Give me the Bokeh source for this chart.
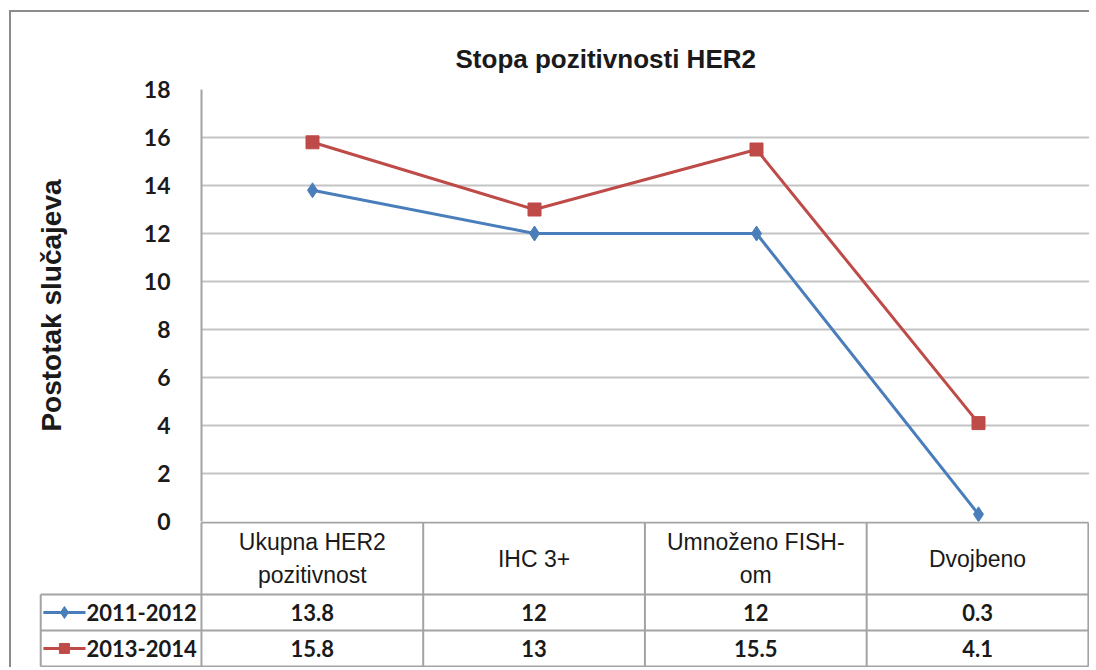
from bokeh.plotting import figure
from bokeh.layouts import column
from bokeh.models import Range1d, FactorRange, SingleIntervalTicker, ColumnDataSource
from bokeh.core.properties import value
from bokeh.embed import file_html
from bokeh.resources import INLINE

# ---- data ----
categories = ["Ukupna HER2\npozitivnost", "IHC 3+", "Umnoženo FISH-\nom", "Dvojbeno"]
series_names = ["2011-2012", "2013-2014"]
s2011_2012 = [13.8, 12, 12, 0.3]
s2013_2014 = [15.8, 13, 15.5, 4.1]
title_text = "Stopa pozitivnosti HER2"
y_label = "Postotak slučajeva"
y_ticks_interval = 2

BLUE = "#4a7ebb"
RED = "#be4b48"
GRID = "#c4c4c4"
TABLE = "#a3a3a3"
TXT = "#1a1a1a"
FRAME = "2px solid #8c8c8c"

# ---- chart ----
p = figure(width=1078, height=523, x_range=FactorRange(*categories),
           y_range=Range1d(0, 18), output_backend="svg", toolbar_location=None,
           x_axis_location=None, min_border_left=190, min_border_right=0,
           min_border_top=77, min_border_bottom=14)
p.outline_line_color = None
p.xgrid.visible = False
p.yaxis.ticker = SingleIntervalTicker(interval=y_ticks_interval)
p.ygrid.ticker = SingleIntervalTicker(interval=y_ticks_interval)
p.ygrid.grid_line_color = GRID
p.ygrid.grid_line_width = 2
p.yaxis.axis_line_color = TABLE
p.yaxis.axis_line_width = 2
p.yaxis.major_tick_line_color = None
p.yaxis.minor_tick_line_color = None
p.yaxis.major_label_standoff = 25
p.yaxis.major_label_text_font = "Lato"
p.yaxis.major_label_text_font_style = "bold"
p.yaxis.major_label_text_font_size = "23px"
p.yaxis.major_label_text_color = TXT
p.yaxis.axis_label = y_label
p.yaxis.axis_label_text_font = "Liberation Sans"
p.yaxis.axis_label_text_font_style = "bold"
p.yaxis.axis_label_text_font_size = "28px"
p.yaxis.axis_label_text_color = TXT
p.yaxis.axis_label_standoff = 74

p.title.text = title_text
p.title.align = "left"
p.title.offset = 254
p.title.text_font = "Liberation Sans"
p.title.text_font_style = "bold"
p.title.text_font_size = "26px"
p.title.text_color = TXT
p.title.standoff = 31

src = ColumnDataSource(dict(x=categories, a=s2011_2012, b=s2013_2014))
p.line("x", "a", source=src, line_color=BLUE, line_width=3)
p.scatter("x", "a", source=src, marker="diamond", size=15, color=BLUE)
p.line("x", "b", source=src, line_color=RED, line_width=3)
p.scatter("x", "b", source=src, marker="square", size=13, color=RED)

# ---- data table ----
n = len(categories)
t = figure(width=1078, height=146, x_range=Range1d(-0.735, n + 0.005),
           y_range=Range1d(-0.03, 4.03), output_backend="svg", toolbar_location=None,
           x_axis_location=None, y_axis_location=None, min_border_left=27,
           min_border_right=0, min_border_top=0, min_border_bottom=0)
t.outline_line_color = None
t.grid.visible = False
t.background_fill_color = None
t.border_fill_color = None

# table rules
vx = list(range(n + 1))
t.segment(x0=vx, y0=[0] * len(vx), x1=vx, y1=[4] * len(vx), line_color=TABLE, line_width=2)
t.segment(x0=[-0.725], y0=[0], x1=[-0.725], y1=[2], line_color=TABLE, line_width=2)
t.segment(x0=[-0.725, -0.725, -0.725, 0], y0=[0, 1, 2, 4], x1=[n] * 4, y1=[0, 1, 2, 4],
          line_color=TABLE, line_width=2)

cx = [i + 0.5 for i in range(n)]
t.text(x=cx, y=[3] * n, text=categories, text_align="center", text_baseline="middle",
       text_font=value("Liberation Sans"), text_font_size="23px", text_color=TXT,
       text_line_height=1.25)
t.text(x=cx, y=[1.5] * n, text=[f"{v:g}" for v in s2011_2012], text_align="center",
       text_baseline="middle", text_font=value("Lato"), text_font_style="bold",
       text_font_size="22px", text_color=TXT)
t.text(x=cx, y=[0.5] * n, text=[f"{v:g}" for v in s2013_2014], text_align="center",
       text_baseline="middle", text_font=value("Lato"), text_font_style="bold",
       text_font_size="22px", text_color=TXT)

# legend keys in the first column
key_y = [1.5, 0.5]
key_colors = [BLUE, RED]
t.segment(x0=[-0.713] * 2, y0=key_y, x1=[-0.523] * 2, y1=key_y, line_color=key_colors, line_width=3)
t.scatter(x=[-0.618], y=[key_y[0]], marker="diamond", size=12, color=BLUE)
t.scatter(x=[-0.618], y=[key_y[1]], marker="square", size=10, color=RED)
t.text(x=[-0.519] * 2, y=key_y, text=series_names, text_align="left", text_baseline="middle",
       text_font=value("Lato"), text_font_style="bold", text_font_size="22px", text_color=TXT)

top = column(p, styles={"margin-left": "9px", "margin-top": "10px",
                        "border-left": FRAME, "border-top": FRAME})
bottom = column(t, styles={"margin-left": "9px", "margin-top": "-14px",
                           "border-left": FRAME})

open("out.html", "w").write(file_html([top, bottom], INLINE))
